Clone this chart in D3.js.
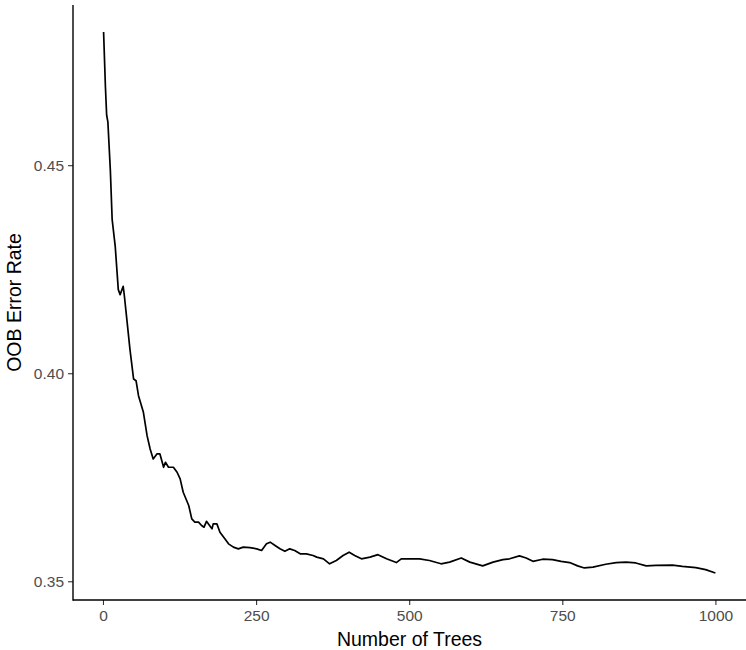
<!DOCTYPE html>
<html>
<head>
<meta charset="utf-8">
<script src="https://cdn.jsdelivr.net/npm/d3@7"></script>
<style>
  html, body { margin: 0; padding: 0; background: #fff; }
  svg { display: block; }
  text { font-family: "Liberation Sans", Arial, Helvetica, sans-serif; }
</style>
</head>
<body>
<svg id="chart" width="746" height="650"></svg>
<script>
// Number of trees (x) and OOB error rate (y)
const trees = [1, 4, 6, 8, 12, 15, 20, 25, 28, 33, 35, 39, 44, 50, 54, 58, 66, 72, 77, 82,
  88, 93, 99, 102, 107, 115, 121, 126, 131, 140, 145, 150, 156, 161, 165, 169, 174, 178, 180, 186,
  191, 199, 205, 213, 221, 229, 240, 251, 259, 267, 273, 281, 289, 297, 305, 313, 322, 332, 343, 349,
  360, 370, 381, 392, 402, 411, 422, 436, 449, 463, 479, 487, 501, 517, 533, 552, 566, 585, 599, 620,
  637, 653, 664, 680, 691, 702, 718, 734, 748, 762, 775, 786, 800, 821, 838, 854, 870, 887, 903, 930,
  946, 968, 984, 1000];
const oobError = [0.4820, 0.4688, 0.4620, 0.4604, 0.4489, 0.4369, 0.4305, 0.4201, 0.4189, 0.4209,
  0.4185, 0.4129, 0.4058, 0.3986, 0.3982, 0.3946, 0.3906, 0.3850, 0.3818, 0.3794,
  0.3806, 0.3806, 0.3774, 0.3786, 0.3774, 0.3774, 0.3762, 0.3746, 0.3714, 0.3682,
  0.3650, 0.3642, 0.3642, 0.3634, 0.3630, 0.3644, 0.3634, 0.3626, 0.3638, 0.3638,
  0.3618, 0.3602, 0.3590, 0.3582, 0.3578, 0.3582, 0.3581, 0.3578, 0.3574, 0.3590,
  0.3594, 0.3586, 0.3578, 0.3572, 0.3578, 0.3574, 0.3566, 0.3566, 0.3562, 0.3558,
  0.3554, 0.3542, 0.3550, 0.3562, 0.3570, 0.3562, 0.3554, 0.3558, 0.3564, 0.3554,
  0.3545, 0.3554, 0.3554, 0.3554, 0.3550, 0.3542, 0.3546, 0.3556, 0.3546, 0.3537,
  0.3546, 0.3552, 0.3554, 0.3561, 0.3556, 0.3548, 0.3553, 0.3552, 0.3548, 0.3545,
  0.3537, 0.3532, 0.3534, 0.3541, 0.3545, 0.3546, 0.3544, 0.3537, 0.3538, 0.3539,
  0.3536, 0.3533, 0.3528, 0.3520];
const xTicks = [0, 250, 500, 750, 1000];
const yTicks = [0.35, 0.40, 0.45];
const xTitle = "Number of Trees";
const yTitle = "OOB Error Rate";

const data = trees.map((t, i) => ({ t, v: oobError[i] }));

const svg = d3.select("#chart");
const panel = { left: 73, right: 746, top: 5, bottom: 600 };

function expand(ext, f) {
  const d = (ext[1] - ext[0]) * f;
  return [ext[0] - d, ext[1] + d];
}

const x = d3.scaleLinear()
  .domain(expand(d3.extent(trees), 0.05))
  .range([panel.left, panel.right]);
const y = d3.scaleLinear()
  .domain(expand(d3.extent(oobError), 0.05))
  .range([panel.bottom, panel.top]);

// line
svg.append("path")
  .datum(data)
  .attr("fill", "none")
  .attr("stroke", "#000")
  .attr("stroke-width", 1.7)
  .attr("stroke-linejoin", "round")
  .attr("d", d3.line().x(d => x(d.t)).y(d => y(d.v)));

// x axis
const xAxis = svg.append("g")
  .attr("transform", `translate(0,${panel.bottom})`)
  .call(d3.axisBottom(x).tickValues(xTicks).tickFormat(d3.format("d")).tickSize(5).tickPadding(5));
// y axis
const yAxis = svg.append("g")
  .attr("transform", `translate(${panel.left},0)`)
  .call(d3.axisLeft(y).tickValues(yTicks).tickFormat(d3.format(".2f")).tickSize(5).tickPadding(4));

[xAxis, yAxis].forEach(g => {
  g.select(".domain").remove();
  g.selectAll(".tick line").attr("stroke", "#333").attr("stroke-width", 1.1);
  g.selectAll(".tick text").attr("fill", "#4d4d4d").style("font-size", "15.5px");
});

// axis lines (full panel extent)
svg.append("line")
  .attr("x1", panel.left).attr("x2", panel.right)
  .attr("y1", panel.bottom).attr("y2", panel.bottom)
  .attr("stroke", "#000").attr("stroke-width", 1.4);
svg.append("line")
  .attr("x1", panel.left).attr("x2", panel.left)
  .attr("y1", panel.top).attr("y2", panel.bottom + 0.7)
  .attr("stroke", "#000").attr("stroke-width", 1.4);

// titles
svg.append("text")
  .attr("x", (panel.left + panel.right) / 2)
  .attr("y", 646)
  .attr("text-anchor", "middle")
  .attr("fill", "#000")
  .style("font-size", "19.5px")
  .text(xTitle);
svg.append("text")
  .attr("transform", `translate(21,${(panel.top + panel.bottom) / 2}) rotate(-90)`)
  .attr("text-anchor", "middle")
  .attr("fill", "#000")
  .style("font-size", "19.5px")
  .text(yTitle);
</script>
</body>
</html>
